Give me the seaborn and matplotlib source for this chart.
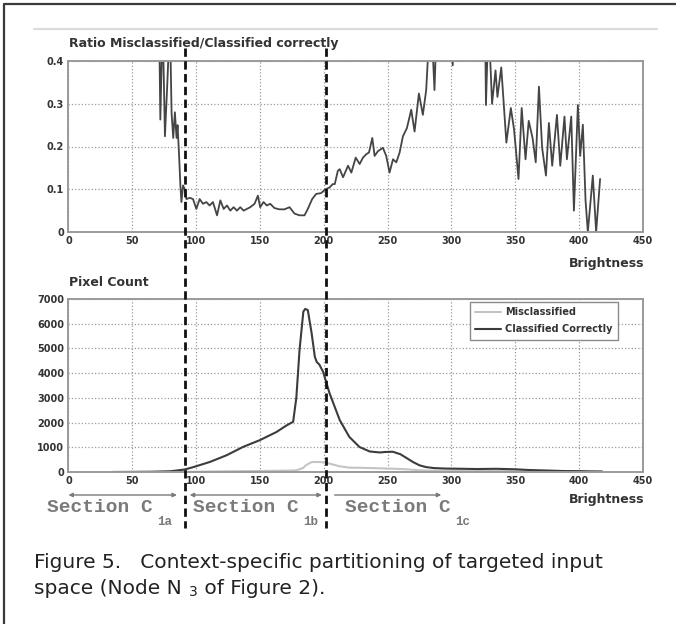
import matplotlib
matplotlib.use('Agg')
import pandas as pd
import matplotlib.pyplot as plt
import seaborn as sns
from matplotlib.lines import Line2D
from matplotlib.transforms import blended_transform_factory

# Ratio misclassified / classified correctly (upper panel)
ratio_x = [71, 72, 73.8, 75.6, 77.5, 79.5, 80.8, 82.1, 83.4, 84.7, 85.5, 86.7, 87.7,
           88.5, 89.8, 91.1, 92.4, 95, 97.6, 100.2, 102.8, 105.4, 108, 110.6, 113.2,
           116.4, 119, 121.6, 124.2, 126.8, 129.4, 132, 134.6, 137.2, 139.8, 142.4,
           145.8, 148.4, 150.2, 152.8, 155.4, 158, 161.4, 165.3, 169.2, 173.2, 177.1,
           181, 184.9, 187.5, 190.9, 194, 197.9, 201.3, 204.5, 207, 208.6, 211, 212.5,
           215.1, 219, 221.6, 225, 228.1, 230.7, 233.3, 235.4, 238, 239.8, 242.4,
           246.3, 248.9, 251.5, 254.2, 256.8, 259.4, 262, 265.1, 268.5, 271.1, 274.5,
           277.6, 280.2, 282.3, 284.1, 286.7, 288, 292, 298, 301, 303, 310, 318, 326,
           327, 329, 331.8, 334.5, 336, 339, 343, 346.5, 349, 352.5, 355, 358, 360.5,
           363.5, 366, 368.5, 371, 374, 376.3, 378.9, 382.6, 385.2, 388.5, 390.4,
           393.8, 395.9, 399, 400.8, 402.9, 405, 406.8, 410.7, 413.3, 416.4]
ratio_y = [0.5, 0.263, 0.5, 0.224, 0.35, 0.5, 0.278, 0.22, 0.28, 0.22, 0.25, 0.178, 0.109,
           0.07, 0.109, 0.1, 0.077, 0.08, 0.077, 0.054, 0.077, 0.066, 0.07, 0.062, 0.07,
           0.039, 0.074, 0.054, 0.062, 0.05, 0.058, 0.05, 0.058, 0.05, 0.054, 0.058,
           0.066, 0.085, 0.058, 0.07, 0.062, 0.066, 0.056, 0.053, 0.053, 0.058, 0.043,
           0.039, 0.039, 0.054, 0.077, 0.089, 0.091, 0.1, 0.104, 0.112, 0.112, 0.143, 0.147,
           0.128, 0.155, 0.139, 0.174, 0.159, 0.174, 0.182, 0.186, 0.22, 0.178, 0.189,
           0.197, 0.178, 0.139, 0.17, 0.163, 0.186, 0.224, 0.243, 0.286, 0.235, 0.324,
           0.274, 0.332, 0.45, 0.5, 0.332, 0.45, 0.6, 0.7, 0.39, 0.6, 0.8, 0.7, 0.6,
           0.297, 0.5, 0.3, 0.378, 0.316, 0.385, 0.209, 0.29, 0.24, 0.124, 0.29, 0.17, 0.26,
           0.22, 0.163, 0.34, 0.197, 0.132, 0.255, 0.155, 0.274, 0.155, 0.27, 0.17,
           0.27, 0.05, 0.297, 0.178, 0.251, 0.074, 0.0, 0.132, 0.0, 0.124]

# Pixel counts (lower panel)
count_x = [35, 50, 65, 80, 91, 98, 111, 124, 137, 150, 163, 171, 176, 178.5, 181, 184,
           185.5, 187.5, 190.5, 193, 194.5, 196.5, 199.5, 204.5, 212.5, 220, 228, 236,
           244, 248, 254, 260, 265, 270, 275, 280, 286, 295, 309, 320, 335, 350, 361,
           375, 387, 400, 410, 418]
classified_correctly = [0, 5, 10, 30, 100, 200, 410, 680, 1020, 1290, 1620, 1890, 2030,
                        3000, 4930, 6490, 6600, 6550, 5610, 4660, 4450, 4350, 4050, 3190,
                        2100, 1420, 1010, 830, 790, 810, 820, 720, 560, 400, 270, 200,
                        160, 140, 130, 120, 130, 110, 80, 60, 40, 35, 25, 20]
misclassified = [0, 0, 2, 5, 8, 12, 20, 28, 34, 40, 50, 55, 60, 70, 110, 170, 250, 320,
                 400, 405, 405, 405, 390, 338, 230, 176, 170, 160, 150, 140, 135, 120,
                 110, 90, 70, 60, 55, 55, 60, 55, 45, 30, 20, 15, 10, 8, 5, 3]

series_names = ['Misclassified', 'Classified Correctly']
brightness_ticks = [0, 50, 100, 150, 200, 250, 300, 350, 400, 450]
ratio_ticks = [0, 0.1, 0.2, 0.3, 0.4]
ratio_labels = ['0', '0.1', '0.2', '0.3', '0.4']
count_ticks = [0, 1000, 2000, 3000, 4000, 5000, 6000, 7000]
section_bounds = [91, 201.5]
section_subs = ['1a', '1b', '1c']

counts = pd.DataFrame({
    'Brightness': count_x * 2,
    'Count': misclassified + classified_correctly,
    'series': [series_names[0]] * len(count_x) + [series_names[1]] * len(count_x),
})

sns.set_style('white')
plt.rcParams['font.family'] = ['DejaVu Sans']

W, H = 676, 624


def fx(px):
    return px / W


def fy(py):
    return 1 - py / H


fig = plt.figure(figsize=(W / 100, H / 100), dpi=100)
ax1 = fig.add_axes([fx(68.4), fy(232), (643 - 68.4) / W, (232 - 61) / H])
ax2 = fig.add_axes([fx(68.4), fy(472), (643 - 68.4) / W, (472 - 299) / H])

sns.lineplot(x=ratio_x, y=ratio_y, ax=ax1, color='#454545', linewidth=1.3,
             estimator=None, sort=False)
sns.lineplot(data=counts, x='Brightness', y='Count', hue='series', hue_order=series_names,
             palette={series_names[0]: '#c4c4c4', series_names[1]: '#3c3c3c'},
             linewidth=1.5, estimator=None, sort=False, ax=ax2)

tick_font = dict(fontsize=7, fontweight='bold', color='#333333')
for ax in (ax1, ax2):
    ax.set_xlim(0, 450)
    ax.set_xticks(brightness_ticks)
    ax.set_xticklabels([str(t) for t in brightness_ticks], **tick_font)
    ax.grid(True, linestyle=':', linewidth=0.9, color='#9a9a9a')
    ax.tick_params(length=0, pad=3)
    ax.set_xlabel('')
    ax.set_ylabel('')
    for s in ax.spines.values():
        s.set_color('#9a9a9a')
        s.set_linewidth(1.4)

ax1.set_ylim(0, 0.4)
ax1.set_yticks(ratio_ticks)
ax1.set_yticklabels(ratio_labels, **tick_font)
ax2.set_ylim(0, 7000)
ax2.set_yticks(count_ticks)
ax2.set_yticklabels([str(t) for t in count_ticks], **tick_font)

handles, labels = ax2.get_legend_handles_labels()
leg = ax2.legend(handles, labels, loc='upper right', bbox_to_anchor=(0.957, 0.985),
                 borderaxespad=0, fancybox=False, framealpha=1, edgecolor='#8a8a8a',
                 handlelength=2.6, handletextpad=0.5, borderpad=0.55, labelspacing=0.75,
                 prop=dict(size=7, weight='bold'))
for t in leg.get_texts():
    t.set_color('#333333')

# panel titles and axis labels
label_kw = dict(fontweight='bold', color='#333333', va='center', ha='left')
fig.text(fx(69), fy(43), 'Ratio Misclassified/Classified correctly', fontsize=9, **label_kw)
fig.text(fx(69), fy(283), 'Pixel Count', fontsize=9, **label_kw)
fig.text(fx(644), fy(263), 'Brightness', fontsize=9, fontweight='bold', color='#333333',
         va='center', ha='right')
fig.text(fx(644), fy(500), 'Brightness', fontsize=9, fontweight='bold', color='#333333',
         va='center', ha='right')

# dashed section boundaries spanning both panels
blend = blended_transform_factory(ax1.transData, fig.transFigure)
for b in section_bounds:
    fig.add_artist(Line2D([b, b], [fy(48), fy(528)], transform=blend, color='#111111',
                          linestyle=(0, (3, 1.6)), linewidth=2.0))

# section arrows
arrow_spans = [(0, section_bounds[0] - 6, '<|-|>'),
               (section_bounds[0] + 4, section_bounds[1] - 3, '<|-|>'),
               (section_bounds[1] + 7, 292, '-|>')]
for x0, x1, style in arrow_spans:
    ax2.annotate('', xy=(x1, fy(495)), xytext=(x0, fy(495)), xycoords=blend,
                 textcoords=blend, annotation_clip=False,
                 arrowprops=dict(arrowstyle=style, color='#7a7a7a', lw=1.0,
                                 shrinkA=0, shrinkB=0, mutation_scale=6))

sec_color = '#7a7a7a'
for px, sub in zip([47, 193, 345], section_subs):
    t = fig.text(fx(px), fy(507), 'Section C', fontfamily=['Liberation Mono'], fontsize=14,
                 fontweight='bold', color=sec_color, va='center', ha='left')
    ax2.annotate(sub, xy=(1, 0.5), xycoords=t, xytext=(4, -15), textcoords='offset pixels',
                 fontfamily=['Liberation Mono'], fontsize=9, fontweight='bold',
                 color=sec_color, va='center', ha='left', annotation_clip=False)

# caption
cap_kw = dict(fontsize=14.5, color='#222222', va='center', ha='left')
fig.text(fx(34), fy(563), 'Figure 5.   Context-specific partitioning of targeted input', **cap_kw)
c1 = fig.text(fx(34), fy(588), 'space (Node N', **cap_kw)
c2 = ax2.annotate('3', xy=(1, 0.5), xycoords=c1, xytext=(7, -4), textcoords='offset pixels',
                  fontsize=10, color='#222222', va='center', ha='left', annotation_clip=False)
ax2.annotate(' of Figure 2).', xy=(1, 0.5), xycoords=c2, xytext=(0, 4),
             textcoords='offset pixels', annotation_clip=False, **cap_kw)

# page decorations: frame and top rule
fig.add_artist(Line2D([fx(34), fx(657)], [fy(29), fy(29)], color='#dcdcdc', linewidth=1.6))
fig.add_artist(Line2D([fx(4), fx(4), 1.01], [-0.01, fy(4), fy(4)], color='#3a3a3a',
                      linewidth=1.6))

fig.savefig('out.png', dpi=100)
